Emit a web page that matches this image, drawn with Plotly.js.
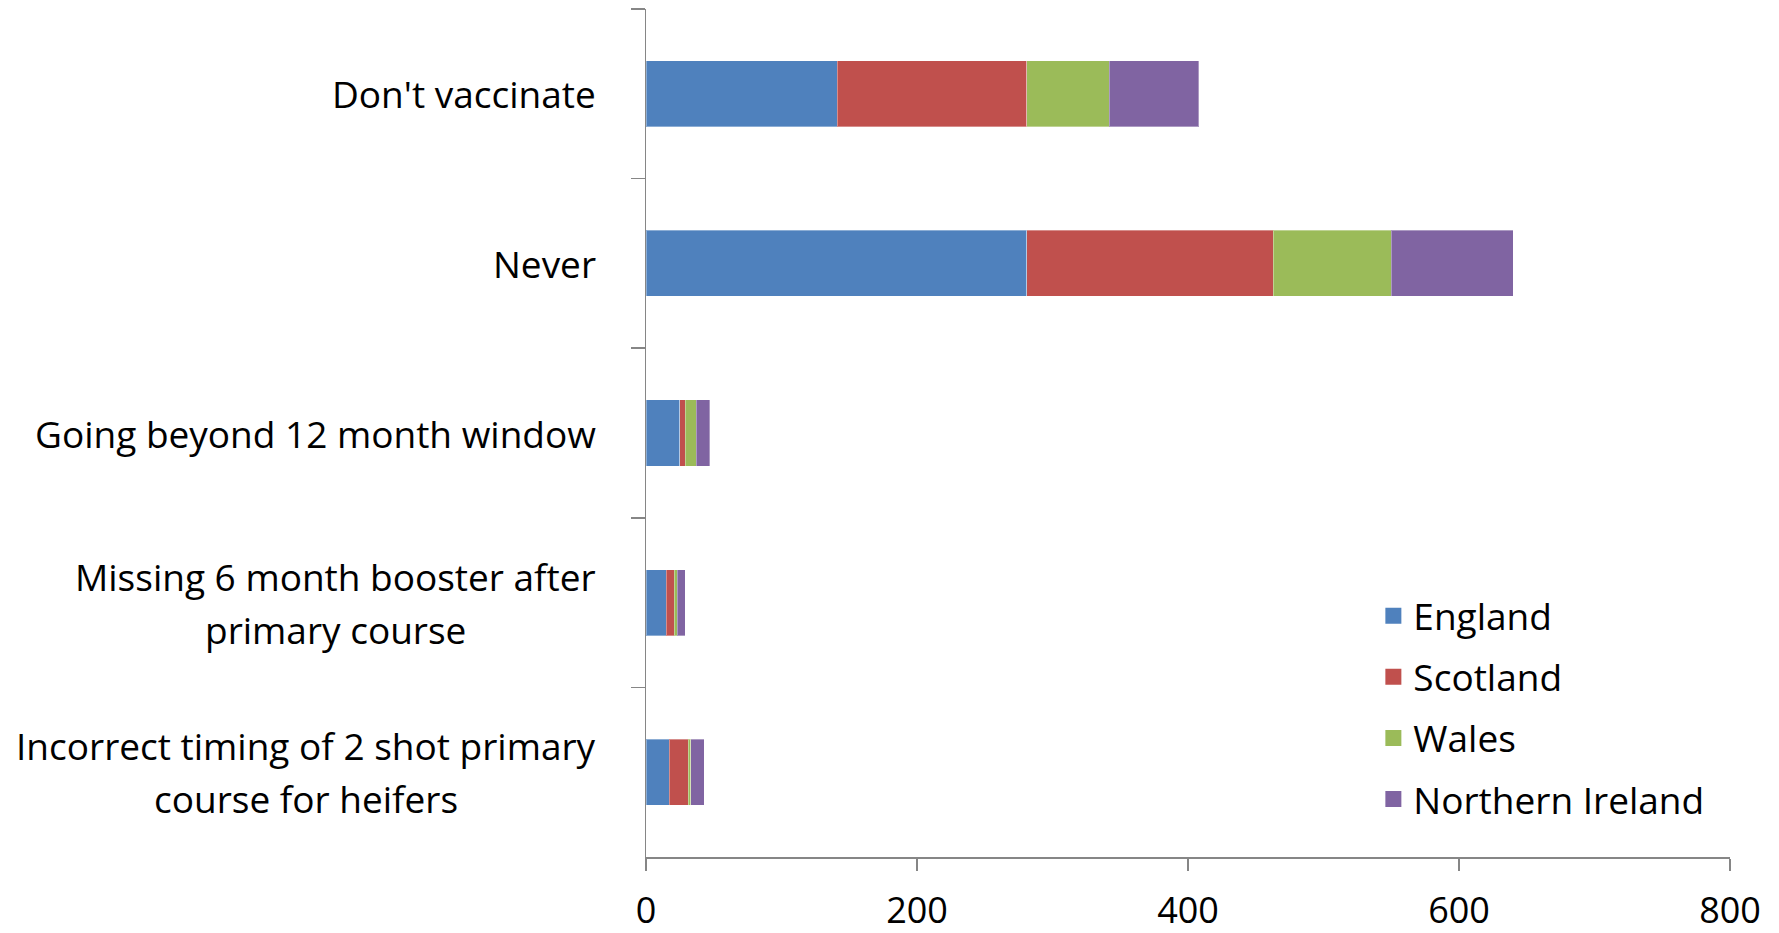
<!DOCTYPE html>
<html>
<head>
<meta charset="utf-8">
<script src="https://cdn.plot.ly/plotly-3.0.1.min.js"></script>
<style>html,body{margin:0;padding:0;background:#fff;}#chart{width:1779px;height:933px;}</style>
</head>
<body>
<div id="chart"></div>
<script>
const categories = ["Don't vaccinate", "Never", "Going beyond 12 month window", "Missing 6 month booster after<br>primary course", "Incorrect timing of 2 shot primary<br>course for heifers"];
const seriesNames = ["England", "Scotland", "Wales", "Northern Ireland"];
const england = [141, 281, 25, 15, 17];
const scotland = [140, 182, 4, 6, 14];
const wales = [61, 87, 8, 2, 2];
const northernIreland = [66, 90, 10, 6, 10];
const xTicks = [0, 200, 400, 600, 800];

const colors = ["#4F81BD", "#C0504D", "#9BBB59", "#8064A2"];
const values = [england, scotland, wales, northernIreland];
const FONT = "Open Sans, Noto Sans, sans-serif";
const LABEL_SIZE = 37;
const LINE_GAP = 53;
const LABEL_OFFSET = 50;

const traces = [];
values.forEach((v, i) => {
  traces.push({
    type: 'bar', orientation: 'h', name: seriesNames[i],
    x: v, y: categories,
    marker: {color: colors[i], line: {color: 'rgba(255,255,255,0.35)', width: 1}},
    showlegend: false, hoverinfo: 'x+name'
  });
});
values.forEach((v, i) => {
  traces.push({
    type: 'scatter', mode: 'markers', name: seriesNames[i],
    x: [null], y: [null], legendgroup: 'g' + i,
    marker: {color: colors[i], symbol: 'square', size: 24},
    showlegend: true
  });
});

// measure label lines to centre multi-line labels
const ctx = document.createElement('canvas').getContext('2d');
ctx.font = LABEL_SIZE + 'px "Open Sans"';
const annotations = [];
categories.forEach(c => {
  const lines = c.split('<br>');
  const maxW = Math.max(...lines.map(l => ctx.measureText(l).width));
  const n = lines.length;
  lines.forEach((l, k) => {
    annotations.push({
      xref: 'paper', yref: 'y', x: 0, y: c, xanchor: 'center', yanchor: 'middle',
      xshift: -LABEL_OFFSET - maxW / 2, yshift: ((n - 1) / 2 - k) * LINE_GAP,
      text: l, showarrow: false,
      font: {family: FONT, size: LABEL_SIZE, color: '#000'}
    });
  });
});

const layout = {
  width: 1779, height: 933,
  margin: {l: 646, r: 49, t: 9, b: 76},
  paper_bgcolor: '#fff', plot_bgcolor: '#fff',
  barmode: 'stack', bargap: 0.61,
  font: {family: FONT, size: 36, color: '#000'},
  xaxis: {
    range: [0, 800], tickvals: xTicks, ticktext: xTicks.map(String),
    showgrid: false, zeroline: false, showline: true, linecolor: '#868686', linewidth: 1.5,
    ticks: 'outside', ticklen: 12, tickcolor: '#868686', tickwidth: 1.5,
    ticklabelstandoff: 9,
    tickfont: {family: FONT, size: 36, color: '#000'}, fixedrange: true
  },
  yaxis: {
    type: 'category', categoryorder: 'array', categoryarray: categories,
    autorange: 'reversed', showticklabels: false,
    showgrid: false, zeroline: false, showline: true, linecolor: '#868686', linewidth: 1.5,
    ticks: 'outside', ticklen: 14, tickcolor: '#868686', tickwidth: 1.5, tickson: 'boundaries',
    fixedrange: true
  },
  legend: {
    x: 0.671, y: 0.3205, xanchor: 'left', yanchor: 'top',
    traceorder: 'grouped', tracegroupgap: 10,
    font: {family: FONT, size: 37, color: '#000'},
    bgcolor: 'rgba(0,0,0,0)'
  },
  annotations: annotations
};

Plotly.newPlot('chart', traces, layout, {displayModeBar: false, staticPlot: true});
</script>
</body>
</html>
